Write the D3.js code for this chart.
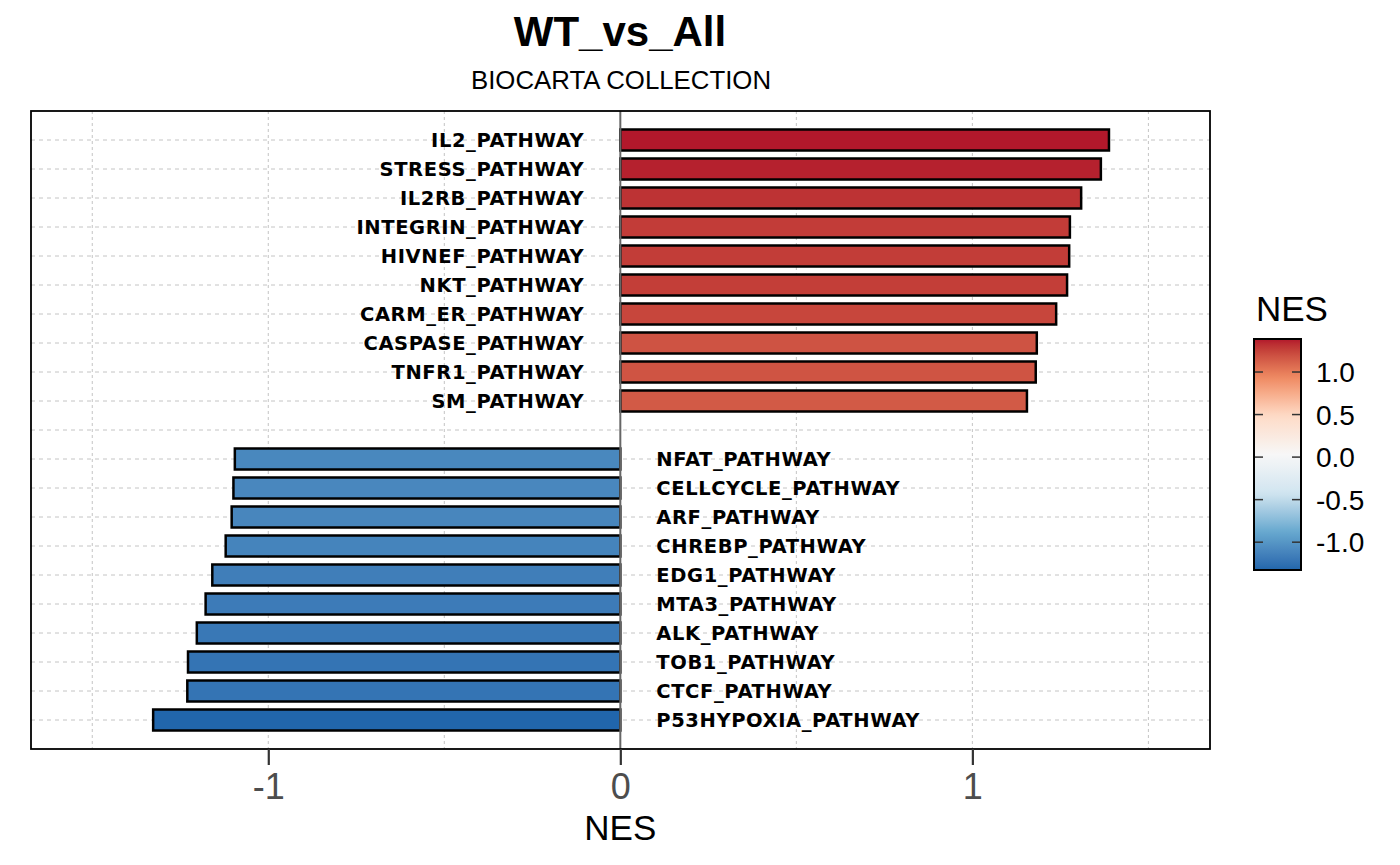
<!DOCTYPE html>
<html>
<head>
<meta charset="utf-8">
<script src="https://cdn.jsdelivr.net/npm/d3@7"></script>
<style>
  body { margin: 0; background: #fff; }
</style>
</head>
<body>
<div id="chart"></div>
<script>
// pathways, top to bottom (empty row between up and down sets)
const upPathways = ["IL2_PATHWAY", "STRESS_PATHWAY", "IL2RB_PATHWAY", "INTEGRIN_PATHWAY", "HIVNEF_PATHWAY",
  "NKT_PATHWAY", "CARM_ER_PATHWAY", "CASPASE_PATHWAY", "TNFR1_PATHWAY", "SM_PATHWAY"];
const upNES = [1.388, 1.365, 1.309, 1.277, 1.275, 1.269, 1.238, 1.183, 1.180, 1.155];

const downPathways = ["NFAT_PATHWAY", "CELLCYCLE_PATHWAY", "ARF_PATHWAY", "CHREBP_PATHWAY", "EDG1_PATHWAY",
  "MTA3_PATHWAY", "ALK_PATHWAY", "TOB1_PATHWAY", "CTCF_PATHWAY", "P53HYPOXIA_PATHWAY"];
const downNES = [-1.095, -1.099, -1.104, -1.121, -1.159, -1.178, -1.203, -1.228, -1.230, -1.327];

const xTicks = [-1, 0, 1];
const xGrid = [-1.5, -1, -0.5, 0, 0.5, 1, 1.5];
const legendTicks = [1.0, 0.5, 0.0, -0.5, -1.0];
const rdbu = ["#2166AC", "#67A9CF", "#D1E5F0", "#F7F7F7", "#FDDBC7", "#EF8A62", "#B2182B"];

const data = [];
upPathways.forEach((p, i) => data.push({ name: p, nes: upNES[i], row: i }));
downPathways.forEach((p, i) => data.push({ name: p, nes: downNES[i], row: i + 11 }));

const W = 1400, H = 865;
const panel = { left: 31, right: 1210, top: 111, bottom: 749 };

const svg = d3.select("#chart").append("svg")
  .attr("width", W)
  .attr("height", H)
  .style("font-family", "'Liberation Sans', Arial, sans-serif");

const x = d3.scaleLinear().domain([-1.674, 1.675]).range([panel.left, panel.right]);
const y = d3.scaleLinear().domain([-1, 21]).range([panel.top, panel.bottom]);

const ext = d3.extent(data, d => d.nes);
const color = d3.scaleLinear()
  .domain(d3.range(rdbu.length).map(i => ext[0] + (ext[1] - ext[0]) * i / (rdbu.length - 1)))
  .range(rdbu)
  .interpolate(d3.interpolateLab);

// grid
const grid = svg.append("g");
grid.selectAll(".vgrid").data(xGrid.filter(v => v !== 0)).enter().append("line")
  .attr("x1", d => x(d)).attr("x2", d => x(d))
  .attr("y1", panel.top).attr("y2", panel.bottom)
  .attr("stroke", "#c4c4c4").attr("stroke-width", 1).attr("stroke-dasharray", "3,3");
grid.selectAll(".hgrid").data(d3.range(0, 21)).enter().append("line")
  .attr("x1", panel.left).attr("x2", panel.right)
  .attr("y1", d => y(d)).attr("y2", d => y(d))
  .attr("stroke", "#c4c4c4").attr("stroke-width", 1).attr("stroke-dasharray", "4,4");

// bars
const barH = 21;
svg.selectAll(".bar").data(data).enter().append("rect")
  .attr("x", d => Math.min(x(0), x(d.nes)))
  .attr("y", d => y(d.row) - barH / 2)
  .attr("width", d => Math.abs(x(d.nes) - x(0)))
  .attr("height", barH)
  .attr("fill", d => color(d.nes))
  .attr("stroke", "#000")
  .attr("stroke-width", 2.5);

// zero line
svg.append("line")
  .attr("x1", x(0)).attr("x2", x(0))
  .attr("y1", panel.top).attr("y2", panel.bottom)
  .attr("stroke", "#666").attr("stroke-width", 2);

// pathway labels
svg.selectAll(".lbl").data(data).enter().append("text")
  .attr("x", d => d.nes > 0 ? x(0) - 36 : x(0) + 36)
  .attr("y", d => y(d.row))
  .attr("dy", "0.36em")
  .attr("text-anchor", d => d.nes > 0 ? "end" : "start")
  .style("font-family", "'DejaVu Sans', sans-serif")
  .style("font-weight", "bold")
  .style("font-size", "19.5px")
  .style("letter-spacing", "0.6px")
  .style("fill", "#000")
  .text(d => d.name);

// panel border
svg.append("rect")
  .attr("x", panel.left).attr("y", panel.top)
  .attr("width", panel.right - panel.left).attr("height", panel.bottom - panel.top)
  .attr("fill", "none").attr("stroke", "#000").attr("stroke-width", 1.8);

// x axis
const xAxis = svg.append("g")
  .attr("transform", `translate(0,${panel.bottom})`)
  .call(d3.axisBottom(x).tickValues(xTicks).tickSize(16).tickPadding(8).tickFormat(d => String(d)));
xAxis.select(".domain").remove();
xAxis.selectAll(".tick line").attr("stroke", "#333").attr("stroke-width", 2.2);
xAxis.selectAll(".tick text")
  .style("font-family", "'Liberation Sans', Arial, sans-serif")
  .style("font-size", "36px").attr("fill", "#4d4d4d");

svg.append("text")
  .attr("x", x(0)).attr("y", 840)
  .attr("text-anchor", "middle")
  .style("font-size", "35px")
  .text("NES");

// titles
svg.append("text")
  .attr("x", 620).attr("y", 46)
  .attr("text-anchor", "middle")
  .style("font-size", "42px").style("font-weight", "bold")
  .text("WT_vs_All");
svg.append("text")
  .attr("x", 621).attr("y", 89)
  .attr("text-anchor", "middle")
  .style("font-size", "25.8px")
  .text("BIOCARTA COLLECTION");

// legend
const lg = { x: 1254, w: 47, top: 339, bottom: 570 };
const ly = d3.scaleLinear().domain(ext).range([lg.bottom, lg.top]);

const defs = svg.append("defs");
const grad = defs.append("linearGradient").attr("id", "nesgrad")
  .attr("x1", 0).attr("y1", 1).attr("x2", 0).attr("y2", 0);
grad.selectAll("stop").data(d3.range(0, 41)).enter().append("stop")
  .attr("offset", d => d / 40)
  .attr("stop-color", d => color(ext[0] + (ext[1] - ext[0]) * d / 40));

svg.append("rect")
  .attr("x", lg.x).attr("y", lg.top)
  .attr("width", lg.w).attr("height", lg.bottom - lg.top)
  .attr("fill", "url(#nesgrad)");

const lt = svg.append("g");
lt.selectAll(".tl").data(legendTicks).enter().append("line")
  .attr("x1", lg.x).attr("x2", lg.x + 9)
  .attr("y1", d => ly(d)).attr("y2", d => ly(d))
  .attr("stroke", "#333").attr("stroke-width", 1.5);
lt.selectAll(".tr").data(legendTicks).enter().append("line")
  .attr("x1", lg.x + lg.w - 9).attr("x2", lg.x + lg.w)
  .attr("y1", d => ly(d)).attr("y2", d => ly(d))
  .attr("stroke", "#333").attr("stroke-width", 1.5);
lt.selectAll(".tt").data(legendTicks).enter().append("text")
  .attr("x", 1316).attr("y", d => ly(d))
  .attr("dy", "0.36em")
  .style("font-size", "28px")
  .text(d => d.toFixed(1));

svg.append("rect")
  .attr("x", lg.x).attr("y", lg.top)
  .attr("width", lg.w).attr("height", lg.bottom - lg.top)
  .attr("fill", "none").attr("stroke", "#000").attr("stroke-width", 2);

svg.append("text")
  .attr("x", 1256).attr("y", 321)
  .style("font-size", "35px")
  .text("NES");
</script>
</body>
</html>
